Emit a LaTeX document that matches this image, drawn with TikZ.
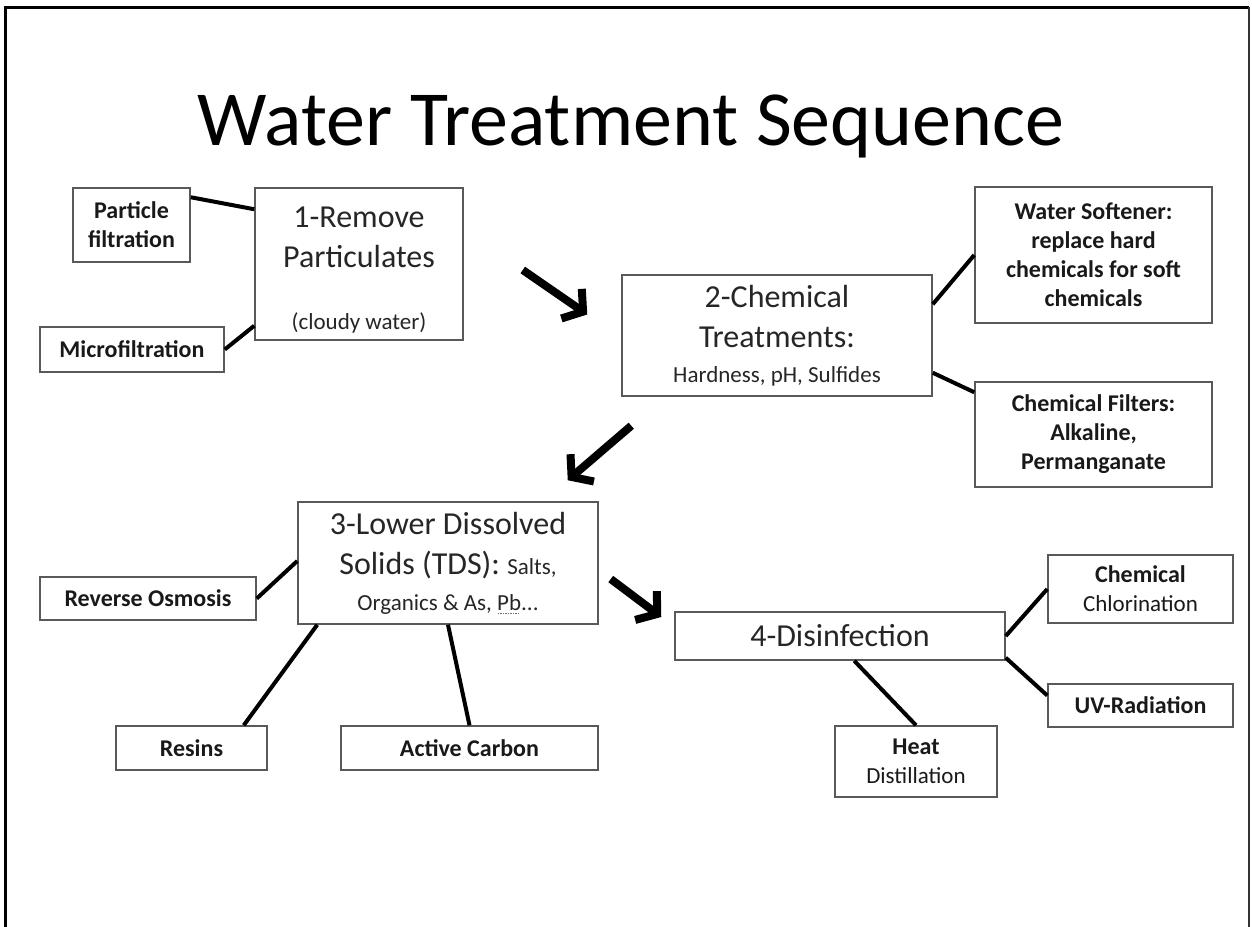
\documentclass[tikz,border=0pt]{standalone}
\usepackage{fontspec}
\setmainfont{Carlito}
\usetikzlibrary{arrows.meta,positioning,calc}

\newcommand{\dotunder}[1]{\setbox0\hbox{#1}\rlap{\raisebox{-4pt}{\color{black!55}\hbox to \wd0{\leaders\hbox to 2.5pt{\hss\rule{1.2pt}{1.2pt}\hss}\hfill}}}#1}

\begin{document}
\begin{tikzpicture}[x=1pt,y=-1pt,thick]
    \tikzstyle{mainbox}=[draw=black!65, line width=1.5pt, fill=white, align=center, inner sep=0pt, text=black!85, font=\fontsize{32}{40}\selectfont]
    \tikzstyle{subbox}=[draw=black!65, line width=1.5pt, fill=white, align=center, inner sep=0pt, text=black!90, font=\bfseries\fontsize{24}{29}\selectfont]
    \tikzstyle{link}=[line width=4pt]
    \tikzstyle{bigarrow}=[line width=8pt, -{Straight Barb[length=14pt,width=36pt]}]
    \newcommand{\smalltxt}{\fontsize{23}{28}\selectfont}

    \useasboundingbox (0,0) rectangle (1252,926);
    \draw[line width=3pt] (5,940) -- (5,7) -- (1249,7);
    \draw[line width=2pt, black!80] (1249,7) -- (1249,940);

    \node[anchor=base, font=\fontsize{78}{84}\selectfont] (title) at (631,145) {Water Treatment Sequence};

    % step 1
    \node[mainbox, minimum width=208pt, minimum height=152pt] (rem) at (359,264)
      {\rule{0pt}{33pt}1-Remove\\Particulates\\[22pt]{\smalltxt (cloudy water)}};
    \node[subbox, minimum width=117pt, minimum height=74pt] (pf) at (131.5,225) {Particle\\filtration};
    \node[subbox, minimum width=184pt, minimum height=45pt] (mf) at (132,349.5) {Microfiltration};

    % step 2
    \node[mainbox, minimum width=310pt, minimum height=121pt] (chem) at (777,335.5)
      {2-Chemical\\Treatments:\\[-5pt]{\smalltxt Hardness, pH, Sulfides}};
    \node[subbox, minimum width=237pt, minimum height=136pt] (soft) at (1093.5,255)
      {Water Softener:\\replace hard\\chemicals for soft\\chemicals};
    \node[subbox, minimum width=237pt, minimum height=105pt] (cfil) at (1093.5,434.5)
      {Chemical Filters:\\Alkaline,\\Permanganate};

    % step 3
    \node[mainbox, minimum width=300pt, minimum height=122pt] (low) at (448,563)
      {3-Lower Dissolved\\Solids (TDS): {\smalltxt Salts,}\\[-4pt]{\smalltxt Organics \& As, \dotunder{Pb}...}};
    \node[subbox, minimum width=216pt, minimum height=43pt] (ro) at (148,598.5) {Reverse Osmosis};
    \node[subbox, minimum width=151pt, minimum height=44pt] (resin) at (191.5,748) {Resins};
    \node[subbox, minimum width=257pt, minimum height=44pt] (carbon) at (469.5,748) {Active Carbon};

    % step 4
    \node[mainbox, minimum width=330pt, minimum height=48pt] (dis) at (840,636) {4-Disinfection};
    \node[subbox, minimum width=185pt, minimum height=68pt] (chlor) at (1140.5,589)
      {Chemical\\{\mdseries\smalltxt Chlorination}};
    \node[subbox, minimum width=185pt, minimum height=43pt] (uv) at (1140.5,705.5) {UV-Radiation};
    \node[subbox, minimum width=162pt, minimum height=71pt] (heat) at (916,761.5)
      {Heat\\{\mdseries\smalltxt Distillation}};

    % links
    \draw[link] ([yshift=-10pt]pf.north east) -- ([yshift=-22pt]rem.north west);
    \draw[link] (mf.east) -- ([yshift=15pt]rem.south west);
    \draw[link] ([yshift=-30pt]chem.north east) -- (soft.west);
    \draw[link] ([yshift=24pt]chem.south east) -- ([yshift=-11pt]cfil.north west);
    \draw[link] (ro.east) -- ([yshift=2pt]low.west);
    \draw[link] ([xshift=-24pt]resin.north east) -- ([xshift=20pt]low.south west);
    \draw[link] (carbon.north) -- (low.south);
    \draw[link] (dis.east) -- (chlor.west);
    \draw[link] ([yshift=3pt]dis.south east) -- ([yshift=10pt]uv.west);
    \draw[link] ([xshift=180pt]dis.south west) -- (heat.north);

    % sequence arrows
    \coordinate (a1) at ([xshift=59pt,yshift=-6pt]rem.east);
    \coordinate (b1) at ([xshift=-34pt,yshift=21pt]chem.west);
    \coordinate (a2) at ([xshift=10pt,yshift=-29pt]chem.south west);
    \coordinate (b2) at ([xshift=-31pt,yshift=21pt]low.north east);
    \coordinate (a3) at ([xshift=12pt,yshift=-16pt]low.east);
    \coordinate (b3) at ([xshift=-13pt,yshift=19pt]dis.west);
    \draw[bigarrow] (a1) -- (b1);
    \draw[bigarrow] (a2) -- (b2);
    \draw[bigarrow] (a3) -- (b3);
\end{tikzpicture}
\end{document}
